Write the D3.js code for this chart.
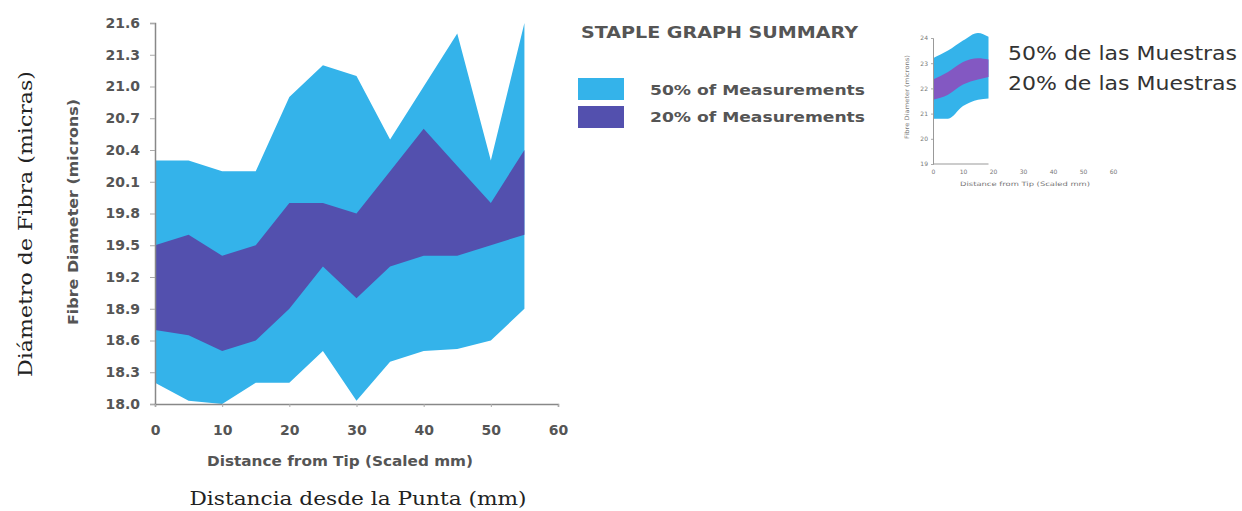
<!DOCTYPE html>
<html>
<head>
<meta charset="utf-8">
<script src="https://cdn.jsdelivr.net/npm/d3@7/dist/d3.min.js"></script>
<style>
  html, body { margin: 0; padding: 0; background: #fff; }
  svg { display: block; }
</style>
</head>
<body>
<svg id="chart" width="1242" height="511"></svg>
<script>
// ---- Main chart data ----
const distance = [0, 5, 10, 15, 20, 25, 30, 35, 40, 45, 50, 55];
const outerHigh = [20.3, 20.3, 20.2, 20.2, 20.9, 21.2, 21.1, 20.5, 21.0, 21.5, 20.3, 21.6];
const innerHigh = [19.5, 19.6, 19.4, 19.5, 19.9, 19.9, 19.8, 20.2, 20.6, 20.25, 19.9, 20.4];
const innerLow  = [18.7, 18.65, 18.5, 18.6, 18.9, 19.3, 19.0, 19.3, 19.4, 19.4, 19.5, 19.6];
const outerLow  = [18.2, 18.03, 18.0, 18.2, 18.2, 18.5, 18.03, 18.4, 18.5, 18.52, 18.6, 18.9];
const yTicks = [18.0, 18.3, 18.6, 18.9, 19.2, 19.5, 19.8, 20.1, 20.4, 20.7, 21.0, 21.3, 21.6];
const xTicks = [0, 10, 20, 30, 40, 50, 60];
const legendLabels = ["50% of Measurements", "20% of Measurements"];

// ---- Inset data ----
const insetDistance = [0, 5, 10, 15, 18.5];
const insetOuterHigh = [23.2, 23.5, 23.9, 24.2, 24.05];
const insetInnerHigh = [22.35, 22.65, 23.05, 23.2, 23.15];
const insetInnerLow  = [21.55, 21.75, 22.15, 22.35, 22.45];
const insetOuterLow  = [20.8, 20.8, 21.3, 21.55, 21.6];
const insetYTicks = [19, 20, 21, 22, 23, 24];
const insetXTicks = [0, 10, 20, 30, 40, 50, 60];
const spanishLegend = ["50% de las Muestras", "20% de las Muestras"];

const LIGHT = "#34b3ea";
const DARK = "#5350ae";
const INSET_DARK = "#8358c2";
const TXT = "#555";

const svg = d3.select("#chart");
svg.append("rect").attr("width", 1242).attr("height", 511).attr("fill", "#fff");

// ---- Main chart ----
const x = d3.scaleLinear().domain([0, 60]).range([155, 558]);
const y = d3.scaleLinear().domain([18, 21.6]).range([404, 23]);

const rows = distance.map((d, i) => ({ d, oh: outerHigh[i], ih: innerHigh[i], il: innerLow[i], ol: outerLow[i] }));

svg.append("path").datum(rows)
  .attr("fill", LIGHT)
  .attr("d", d3.area().x(r => x(r.d)).y0(r => y(r.ol)).y1(r => y(r.oh)));
svg.append("path").datum(rows)
  .attr("fill", DARK)
  .attr("d", d3.area().x(r => x(r.d)).y0(r => y(r.il)).y1(r => y(r.ih)));

const yAxis = svg.append("g").attr("transform", `translate(${x(0)},0)`)
  .call(d3.axisLeft(y).tickValues(yTicks).tickFormat(d3.format(".1f")).tickSize(5).tickPadding(10));
const xAxis = svg.append("g").attr("transform", `translate(0,${y(18)})`)
  .call(d3.axisBottom(x).tickValues(xTicks).tickFormat(d3.format("d")).tickSize(3).tickPadding(18));

[yAxis, xAxis].forEach(g => {
  g.select(".domain").attr("stroke", "#888").attr("stroke-width", 1.5);
  g.selectAll(".tick line").attr("stroke", "#aaa");
  g.selectAll(".tick text")
    .attr("fill", TXT).attr("font-family", "DejaVu Sans").attr("font-weight", "bold").attr("font-size", 14);
});

svg.append("text")
  .attr("transform", "translate(78,212) rotate(-90)")
  .attr("text-anchor", "middle")
  .attr("fill", TXT).attr("font-family", "DejaVu Sans").attr("font-weight", "bold").attr("font-size", 14)
  .attr("textLength", 226).attr("lengthAdjust", "spacingAndGlyphs")
  .text("Fibre Diameter (microns)");

svg.append("text")
  .attr("x", 340).attr("y", 466)
  .attr("text-anchor", "middle")
  .attr("fill", TXT).attr("font-family", "DejaVu Sans").attr("font-weight", "bold").attr("font-size", 14)
  .attr("textLength", 266).attr("lengthAdjust", "spacingAndGlyphs")
  .text("Distance from Tip (Scaled mm)");

svg.append("text")
  .attr("x", 358).attr("y", 505)
  .attr("text-anchor", "middle")
  .attr("fill", "#222").attr("font-family", "DejaVu Serif").attr("font-size", 19)
  .attr("textLength", 337).attr("lengthAdjust", "spacingAndGlyphs")
  .text("Distancia desde la Punta (mm)");

svg.append("text")
  .attr("transform", "translate(32,224) rotate(-90)")
  .attr("text-anchor", "middle")
  .attr("fill", "#222").attr("font-family", "DejaVu Serif").attr("font-size", 19)
  .attr("textLength", 306).attr("lengthAdjust", "spacingAndGlyphs")
  .text("Diámetro de Fibra (micras)");

// ---- Legend ----
svg.append("text")
  .attr("x", 581).attr("y", 38)
  .attr("fill", TXT).attr("font-family", "DejaVu Sans").attr("font-weight", "bold").attr("font-size", 16)
  .attr("textLength", 277).attr("lengthAdjust", "spacingAndGlyphs")
  .text("STAPLE GRAPH SUMMARY");

const legend = svg.append("g");
legend.selectAll("rect").data(legendLabels).join("rect")
  .attr("x", 578).attr("y", (d, i) => 78 + i * 28)
  .attr("width", 46).attr("height", 22)
  .attr("fill", (d, i) => i === 0 ? LIGHT : DARK);
legend.selectAll("text").data(legendLabels).join("text")
  .attr("x", 650).attr("y", (d, i) => 95 + i * 27)
  .attr("fill", TXT).attr("font-family", "DejaVu Sans").attr("font-weight", "bold").attr("font-size", 14)
  .attr("textLength", 215).attr("lengthAdjust", "spacingAndGlyphs")
  .text(d => d);

// ---- Inset ----
const ix = d3.scaleLinear().domain([0, 60]).range([933, 1113]);
const iy = d3.scaleLinear().domain([19, 24]).range([164, 38]);
const irows = insetDistance.map((d, i) => ({ d, oh: insetOuterHigh[i], ih: insetInnerHigh[i], il: insetInnerLow[i], ol: insetOuterLow[i] }));

svg.append("path").datum(irows)
  .attr("fill", LIGHT)
  .attr("d", d3.area().curve(d3.curveMonotoneX).x(r => ix(r.d)).y0(r => iy(r.ol)).y1(r => iy(r.oh)));
svg.append("path").datum(irows)
  .attr("fill", INSET_DARK)
  .attr("d", d3.area().curve(d3.curveMonotoneX).x(r => ix(r.d)).y0(r => iy(r.il)).y1(r => iy(r.ih)));

const iyAxis = svg.append("g").attr("transform", `translate(${ix(0)},0)`)
  .call(d3.axisLeft(iy).tickValues(insetYTicks).tickFormat(d3.format("d")).tickSize(2).tickPadding(3));
iyAxis.select(".domain").attr("stroke", "#999");
iyAxis.selectAll(".tick line").attr("stroke", "#aaa");
iyAxis.selectAll(".tick text").attr("fill", "#777").attr("font-family", "DejaVu Sans").attr("font-size", 6);

const ixAxis = svg.append("g").attr("transform", `translate(0,${iy(19)})`)
  .call(d3.axisBottom(ix).tickValues(insetXTicks).tickSize(0).tickPadding(6));
ixAxis.select(".domain").remove();
ixAxis.selectAll(".tick text").attr("fill", "#777").attr("font-family", "DejaVu Sans").attr("font-size", 6);
svg.append("line")
  .attr("x1", ix(0)).attr("x2", ix(d3.max(insetDistance)))
  .attr("y1", iy(19)).attr("y2", iy(19))
  .attr("stroke", "#999");

svg.append("text")
  .attr("x", 1025).attr("y", 186)
  .attr("text-anchor", "middle")
  .attr("fill", "#777").attr("font-family", "DejaVu Sans").attr("font-size", 6)
  .attr("textLength", 130).attr("lengthAdjust", "spacingAndGlyphs")
  .text("Distance from Tip (Scaled mm)");

svg.append("text")
  .attr("transform", "translate(909,97) rotate(-90)")
  .attr("text-anchor", "middle")
  .attr("fill", "#777").attr("font-family", "DejaVu Sans").attr("font-size", 6)
  .attr("textLength", 84).attr("lengthAdjust", "spacingAndGlyphs")
  .text("Fibre Diameter (microns)");

svg.selectAll(".spanish").data(spanishLegend).join("text")
  .attr("class", "spanish")
  .attr("x", 1008).attr("y", (d, i) => 60 + i * 30)
  .attr("fill", "#333").attr("font-family", "DejaVu Sans").attr("font-size", 19)
  .attr("textLength", 229).attr("lengthAdjust", "spacingAndGlyphs")
  .text(d => d);
</script>
</body>
</html>
